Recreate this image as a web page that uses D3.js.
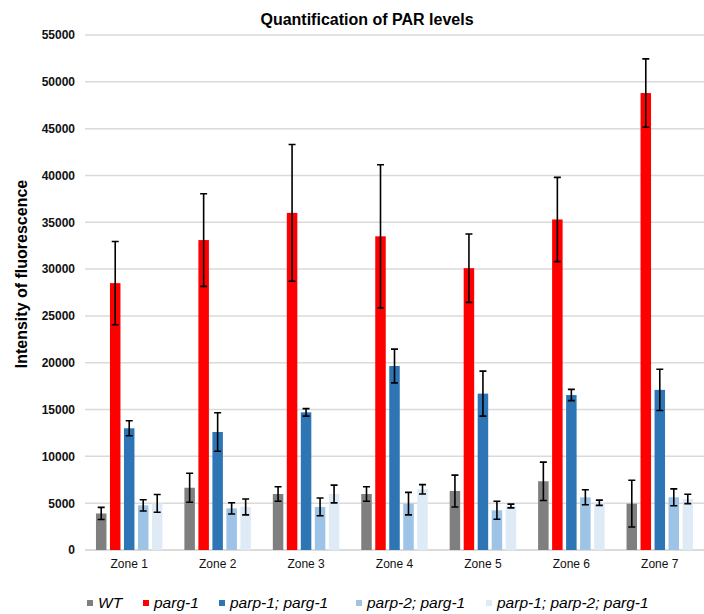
<!DOCTYPE html>
<html>
<head>
  <meta charset="utf-8">
  <title>Quantification of PAR levels</title>
  <script src="https://d3js.org/d3.v7.min.js"></script>
  <style>
    body { margin: 0; background: #fff; }
    svg text { font-family: "Liberation Sans", Arial, sans-serif; }
  </style>
</head>
<body>
  <svg id="chart" width="704" height="614"></svg>

  <script>
    // data
    const zones = ["Zone 1", "Zone 2", "Zone 3", "Zone 4", "Zone 5", "Zone 6", "Zone 7"];
    const series = ["WT", "parg-1", "parp-1; parg-1", "parp-2; parg-1", "parp-1; parp-2; parg-1"];
    const colors = ["#7f7f7f", "#ff0000", "#2e75b6", "#9dc3e6", "#deebf7"];

    const wt       = [3900, 6650, 5980, 5980, 6300, 7340, 4950];
    const parg     = [28500, 33100, 36000, 33500, 30100, 35300, 48800];
    const parp1    = [13000, 12600, 14700, 19650, 16700, 16550, 17100];
    const parp2    = [4770, 4450, 4600, 4950, 4240, 5630, 5630];
    const triple   = [4980, 4600, 5980, 6480, 4700, 5050, 5450];

    const wtErr     = [650, 1550, 780, 780, 1700, 2050, 2500];
    const pargErr   = [4450, 4950, 7300, 7650, 3650, 4500, 3650];
    const parp1Err  = [800, 2050, 400, 1800, 2400, 600, 2200];
    const parp2Err  = [600, 600, 950, 1200, 960, 800, 900];
    const tripleErr = [950, 850, 950, 500, 200, 280, 500];

    const yTicks = d3.range(0, 55001, 5000);

    const values = [wt, parg, parp1, parp2, triple];
    const errors = [wtErr, pargErr, parp1Err, parp2Err, tripleErr];

    const svg = d3.select("#chart");
    const plotL = 85, plotR = 704, plotT = 35, plotB = 550;

    const x0 = d3.scaleBand().domain(zones).range([plotL, plotR])
      .paddingInner(0.248).paddingOuter(0.124);
    const x1 = d3.scaleBand().domain(series).range([0, x0.bandwidth()])
      .paddingInner(0.25).paddingOuter(0);
    const y = d3.scaleLinear().domain([0, 55000]).range([plotB, plotT]);

    // gridlines
    svg.append("g")
      .selectAll("line")
      .data(yTicks)
      .join("line")
      .attr("x1", plotL).attr("x2", plotR)
      .attr("y1", d => y(d)).attr("y2", d => y(d))
      .attr("stroke", d => d === 0 ? "#cfcfcf" : "#dadada")
      .attr("stroke-width", 1.5);

    // y tick labels
    svg.append("g")
      .attr("transform", `translate(${plotL - 7},0)`)
      .call(d3.axisLeft(y).tickValues(yTicks).tickFormat(d3.format("d")).tickSize(0))
      .call(g => g.select(".domain").remove())
      .call(g => g.selectAll("text")
        .attr("font-family", "Liberation Sans, Arial, sans-serif")
        .attr("font-size", 12).attr("font-weight", "bold").attr("fill", "#111"));

    // x labels
    svg.append("g")
      .attr("transform", `translate(0,${plotB + 6})`)
      .call(d3.axisBottom(x0).tickSize(0))
      .call(g => g.select(".domain").remove())
      .call(g => g.selectAll("text")
        .attr("font-family", "Liberation Sans, Arial, sans-serif")
        .attr("font-size", 12).attr("fill", "#111"));

    // bars + error bars
    const rows = [];
    zones.forEach((z, i) => {
      series.forEach((s, j) => {
        rows.push({ zone: z, s, j, v: values[j][i], e: errors[j][i] });
      });
    });

    const groups = svg.append("g").selectAll("g")
      .data(rows)
      .join("g")
      .attr("transform", d => `translate(${x0(d.zone) + x1(d.s)},0)`);

    groups.append("rect")
      .attr("x", 0)
      .attr("width", x1.bandwidth())
      .attr("y", d => y(d.v))
      .attr("height", d => y(0) - y(d.v))
      .attr("fill", d => colors[d.j]);

    const cx = x1.bandwidth() / 2;
    const cap = 3.5;
    groups.append("path")
      .attr("d", d => {
        const y1 = y(d.v + d.e), y2 = y(d.v - d.e);
        return `M${cx},${y1}V${y2}M${cx - cap},${y1}H${cx + cap}M${cx - cap},${y2}H${cx + cap}`;
      })
      .attr("stroke", "#000")
      .attr("stroke-width", 1.6)
      .attr("fill", "none");

    // title
    svg.append("text")
      .attr("x", 367).attr("y", 25)
      .attr("text-anchor", "middle")
      .attr("font-size", 16).attr("font-weight", "bold")
      .text("Quantification of PAR levels");

    // y label
    svg.append("text")
      .attr("transform", "translate(27,274) rotate(-90)")
      .attr("text-anchor", "middle")
      .attr("font-size", 16).attr("font-weight", "bold")
      .text("Intensity of fluorescence");

    // legend
    const legendX = [87, 143, 219, 356, 486];
    const legend = svg.append("g").selectAll("g")
      .data(series)
      .join("g")
      .attr("transform", (d, i) => `translate(${legendX[i]},608)`);
    legend.append("rect")
      .attr("x", 0).attr("y", -8)
      .attr("width", 6).attr("height", 6)
      .attr("fill", (d, i) => colors[i]);
    legend.append("text")
      .attr("x", 11).attr("y", 0)
      .attr("font-size", 15.5).attr("font-style", "italic")
      .text(d => d);
  </script>
</body>
</html>
